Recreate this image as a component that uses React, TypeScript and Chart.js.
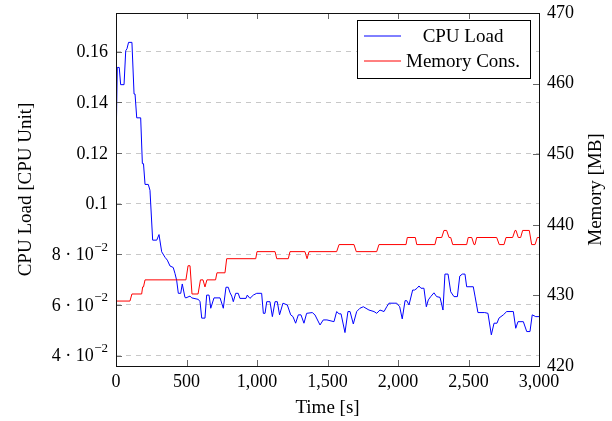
import React, { useEffect, useRef } from "react";
import { Chart, registerables } from "chart.js";

Chart.register(...registerables);

const SERIF = "'Liberation Serif', 'Times New Roman', serif";

const cpuTime = [0, 9, 23, 33, 57, 69, 78, 89, 113, 128, 135, 147, 175, 187, 195, 206, 229, 241, 260, 289, 305, 324, 348, 364, 383, 406, 418, 430, 442, 459, 470, 489, 496, 525, 537, 584, 596, 608, 631, 643, 660, 672, 695, 738, 761, 780, 796, 809, 821, 832, 849, 867, 879, 922, 931, 950, 974, 998, 1033, 1045, 1057, 1069, 1092, 1109, 1128, 1144, 1160, 1184, 1215, 1239, 1255, 1274, 1293, 1312, 1333, 1352, 1392, 1411, 1447, 1470, 1496, 1546, 1565, 1582, 1596, 1624, 1645, 1660, 1683, 1707, 1730, 1754, 1794, 1830, 1849, 1872, 1901, 1920, 1936, 1972, 1991, 2012, 2030, 2050, 2062, 2078, 2104, 2118, 2135, 2149, 2163, 2184, 2201, 2215, 2232, 2255, 2274, 2298, 2319, 2333, 2355, 2374, 2397, 2421, 2438, 2456, 2475, 2487, 2534, 2546, 2567, 2615, 2638, 2662, 2681, 2702, 2716, 2747, 2771, 2818, 2835, 2851, 2889, 2913, 2936, 2952, 2977, 3000];

const cpuLoad = [0.1210, 0.1538, 0.1538, 0.1470, 0.1470, 0.1604, 0.1612, 0.1637, 0.1637, 0.1433, 0.1433, 0.1339, 0.1339, 0.1158, 0.1158, 0.1076, 0.1076, 0.1053, 0.0856, 0.0856, 0.0878, 0.0810, 0.0788, 0.0777, 0.0754, 0.0748, 0.0725, 0.0698, 0.0646, 0.0646, 0.0683, 0.0630, 0.0628, 0.0635, 0.0628, 0.0622, 0.0613, 0.0548, 0.0548, 0.0639, 0.0639, 0.0587, 0.0628, 0.0628, 0.0587, 0.0670, 0.0670, 0.0648, 0.0635, 0.0613, 0.0646, 0.0646, 0.0626, 0.0626, 0.0639, 0.0626, 0.0639, 0.0646, 0.0646, 0.0567, 0.0567, 0.0613, 0.0613, 0.0554, 0.0613, 0.0613, 0.0561, 0.0607, 0.0600, 0.0561, 0.0554, 0.0528, 0.0561, 0.0561, 0.0528, 0.0567, 0.0570, 0.0561, 0.0521, 0.0541, 0.0541, 0.0534, 0.0574, 0.0565, 0.0565, 0.0491, 0.0574, 0.0574, 0.0525, 0.0574, 0.0587, 0.0593, 0.0580, 0.0574, 0.0567, 0.0580, 0.0574, 0.0593, 0.0607, 0.0607, 0.0607, 0.0593, 0.0545, 0.0617, 0.0617, 0.0600, 0.0659, 0.0659, 0.0666, 0.0675, 0.0666, 0.0666, 0.0593, 0.0620, 0.0633, 0.0648, 0.0633, 0.0630, 0.0580, 0.0722, 0.0722, 0.0652, 0.0633, 0.0633, 0.0714, 0.0722, 0.0722, 0.0672, 0.0672, 0.0635, 0.0570, 0.0570, 0.0567, 0.0482, 0.0528, 0.0528, 0.0548, 0.0561, 0.0574, 0.0574, 0.0508, 0.0534, 0.0534, 0.0495, 0.0495, 0.0561, 0.0554, 0.0554];

const memTime = [0, 99, 113, 182, 189, 195, 206, 496, 511, 525, 539, 582, 599, 617, 631, 645, 706, 716, 773, 785, 991, 1000, 1128, 1140, 1222, 1234, 1340, 1355, 1369, 1565, 1582, 1688, 1704, 1849, 1865, 2057, 2066, 2123, 2133, 2262, 2274, 2310, 2326, 2345, 2362, 2374, 2388, 2487, 2498, 2523, 2539, 2546, 2558, 2700, 2718, 2752, 2766, 2813, 2830, 2837, 2853, 2870, 2884, 2931, 2948, 2972, 2988, 3000];

const memUsage = [429.2, 429.2, 430.2, 430.2, 431.2, 431.2, 432.2, 432.2, 434.2, 434.2, 430.2, 430.2, 432.2, 432.2, 431.2, 432.2, 432.2, 433.2, 433.2, 435.2, 435.2, 436.2, 436.2, 435.2, 435.2, 436.2, 436.2, 435.2, 436.2, 436.2, 437.2, 437.2, 436.2, 436.2, 437.2, 437.2, 438.2, 438.2, 437.2, 437.2, 438.2, 438.2, 439.2, 439.2, 438.2, 438.2, 437.2, 437.2, 438.2, 438.2, 437.2, 437.2, 438.2, 438.2, 437.2, 437.2, 438.2, 438.2, 439.2, 439.2, 438.2, 438.2, 439.2, 439.2, 437.2, 437.2, 438.2, 438.2];

const seriesLabels = ["CPU Load", "Memory Cons."];
const seriesColors = ["#0000ff", "#ff0000"];
const xTicks = [0, 500, 1000, 1500, 2000, 2500, 3000];
const cpuTicks = [0.04, 0.06, 0.08, 0.1, 0.12, 0.14, 0.16];
const cpuTickLabels = ["4 · 10⁻²", "6 · 10⁻²", "8 · 10⁻²", "0.1", "0.12", "0.14", "0.16"];
const memTicks = [420, 430, 440, 450, 460, 470];
const xTitle = "Time [s]";
const cpuTitle = "CPU Load [CPU Unit]";
const memTitle = "Memory [MB]";

const SUP: Record<string, string> = { "⁻": "−", "⁰": "0", "¹": "1", "²": "2", "³": "3", "⁴": "4", "⁵": "5", "⁶": "6", "⁷": "7", "⁸": "8", "⁹": "9" };

const frameTicksPlugin = {
  id: "frameTicks",
  afterDatasetsDraw(chart: any) {
    const { ctx, chartArea: a, scales } = chart;
    const L = 6;
    ctx.save();
    ctx.strokeStyle = "#666";
    ctx.lineWidth = 1;
    ctx.beginPath();
    scales.x.ticks.forEach((t: any) => {
      const px = Math.round(scales.x.getPixelForValue(t.value)) + 0.5;
      ctx.moveTo(px, a.bottom);
      ctx.lineTo(px, a.bottom - L);
      ctx.moveTo(px, a.top);
      ctx.lineTo(px, a.top + L);
    });
    scales.y.ticks.forEach((t: any) => {
      const py = Math.round(scales.y.getPixelForValue(t.value)) + 0.5;
      ctx.moveTo(a.left, py);
      ctx.lineTo(a.left + L, py);
    });
    scales.y1.ticks.forEach((t: any) => {
      const py = Math.round(scales.y1.getPixelForValue(t.value)) + 0.5;
      ctx.moveTo(a.right, py);
      ctx.lineTo(a.right - L, py);
    });
    ctx.stroke();
    ctx.strokeStyle = "#111";
    ctx.strokeRect(Math.round(a.left) + 0.5, Math.round(a.top) + 0.5, Math.round(a.right) - Math.round(a.left), Math.round(a.bottom) - Math.round(a.top));
    ctx.restore();
  },
  afterDraw(chart: any) {
    const { ctx, chartArea: a, scales } = chart;
    ctx.save();
    ctx.fillStyle = "#000";
    ctx.textBaseline = "middle";
    scales.y.ticks.forEach((t: any) => {
      const i = cpuTicks.findIndex((c) => Math.abs(c - t.value) < 1e-9);
      if (i < 0) return;
      const lab = cpuTickLabels[i];
      const m = lab.match(/^(.*?)([⁻⁰¹²³⁴⁵⁶⁷⁸⁹]+)$/);
      const py = scales.y.getPixelForValue(t.value);
      const xr = a.left - 8;
      ctx.textAlign = "right";
      if (m) {
        const base = m[1];
        const exp = m[2].split("").map((c) => SUP[c] || c).join("");
        ctx.font = `13px ${SERIF}`;
        const ew = ctx.measureText(exp).width;
        ctx.fillText(exp, xr, py - 7);
        ctx.font = `18px ${SERIF}`;
        ctx.fillText(base, xr - ew - 0.5, py + 1);
      } else {
        ctx.font = `18px ${SERIF}`;
        ctx.fillText(lab, xr, py + 1);
      }
    });
    ctx.save();
    ctx.font = `19px ${SERIF}`;
    ctx.textAlign = "center";
    ctx.textBaseline = "middle";
    ctx.translate(596, (a.top + a.bottom) / 2);
    ctx.rotate(-Math.PI / 2);
    ctx.fillText(memTitle, 0, 0);
    ctx.restore();

    ctx.font = `19px ${SERIF}`;
    const maxW = Math.max(...seriesLabels.map((s) => ctx.measureText(s).width));
    const padL = 7, lineW = 37, gap = 5, padR = 10;
    const w = padL + lineW + gap + maxW + padR;
    const h = 58;
    const right = Math.round(a.right) - 9;
    const top = Math.round(a.top) + 7;
    const left = Math.round(right - w);
    ctx.fillStyle = "#ffffff";
    ctx.fillRect(left, top, right - left, h);
    ctx.strokeStyle = "#000000";
    ctx.lineWidth = 1;
    ctx.strokeRect(left + 0.5, top + 0.5, right - left, h);
    seriesLabels.forEach((s, i) => {
      const y = top + 16 + i * 25;
      ctx.beginPath();
      ctx.strokeStyle = seriesColors[i];
      ctx.lineWidth = 1;
      ctx.moveTo(left + padL, y);
      ctx.lineTo(left + padL + lineW, y);
      ctx.stroke();
      ctx.fillStyle = "#000000";
      ctx.textAlign = "center";
      ctx.textBaseline = "middle";
      ctx.fillText(s, left + padL + lineW + gap + maxW / 2, y + 1);
    });
    ctx.restore();
  },
};

export default function App() {
  const ref = useRef<HTMLCanvasElement | null>(null);
  useEffect(() => {
    if (!ref.current) return;
    const chart = new Chart(ref.current, {
      type: "line",
      data: {
        datasets: [
          {
            label: seriesLabels[0],
            data: cpuTime.map((t, i) => ({ x: t, y: cpuLoad[i] })),
            borderColor: seriesColors[0],
            borderWidth: 1,
            pointRadius: 0,
            tension: 0,
            yAxisID: "y",
            order: 2,
          },
          {
            label: seriesLabels[1],
            data: memTime.map((t, i) => ({ x: t, y: memUsage[i] })),
            borderColor: seriesColors[1],
            borderWidth: 1,
            pointRadius: 0,
            tension: 0,
            yAxisID: "y1",
            order: 1,
          },
        ],
      },
      options: {
        animation: false,
        responsive: false,
        locale: "en-US",
        layout: { padding: { top: 13, left: 0, right: 0, bottom: 0 } },
        plugins: { legend: { display: false }, tooltip: { enabled: false } },
        scales: {
          x: {
            type: "linear",
            min: 0,
            max: 3000,
            afterBuildTicks: (s: any) => { s.ticks = xTicks.map((v) => ({ value: v })); },
            afterFit: (s: any) => { s.height = 55; s.paddingLeft = 0; s.paddingRight = 0; },
            grid: { display: false, drawTicks: false },
            border: { display: false },
            ticks: {
              color: "#000",
              padding: 5,
              maxRotation: 0,
              autoSkip: false,
              font: { family: SERIF, size: 18 },
              callback: (v: any) => Number(v).toLocaleString("en-US"),
            },
            title: { display: true, text: xTitle, color: "#000", font: { family: SERIF, size: 19 }, padding: { top: 0, bottom: 2 } },
          },
          y: {
            type: "linear",
            position: "left",
            min: 0.0359,
            max: 0.1753,
            afterBuildTicks: (s: any) => { s.ticks = cpuTicks.map((v) => ({ value: v })); },
            afterFit: (s: any) => { s.width = 116; s.paddingTop = 0; s.paddingBottom = 0; },
            grid: { color: "#c8c8c8", drawTicks: false, lineWidth: 1 },
            border: { display: false, dash: [5, 5] },
            ticks: { display: false },
            title: { display: true, text: cpuTitle, color: "#000", font: { family: SERIF, size: 19 }, padding: { top: 15, bottom: 0 } },
          },
          y1: {
            type: "linear",
            position: "right",
            min: 420,
            max: 470,
            afterBuildTicks: (s: any) => { s.ticks = memTicks.map((v) => ({ value: v })); },
            afterFit: (s: any) => { s.width = 73; s.paddingTop = 0; s.paddingBottom = 0; },
            grid: { display: false, drawTicks: false },
            border: { display: false },
            ticks: { color: "#000", padding: 8, autoSkip: false, font: { family: SERIF, size: 18 } },
            title: { display: false, text: memTitle },
          },
        },
      },
      plugins: [frameTicksPlugin],
    } as any);
    return () => chart.destroy();
  }, []);
  return (
    <div style={{ position: "absolute", left: 0, top: 0, width: 612, height: 421, background: "#fff" }}>
      <canvas ref={ref} width={612} height={421} style={{ display: "block", width: 612, height: 421 }} />
    </div>
  );
}
